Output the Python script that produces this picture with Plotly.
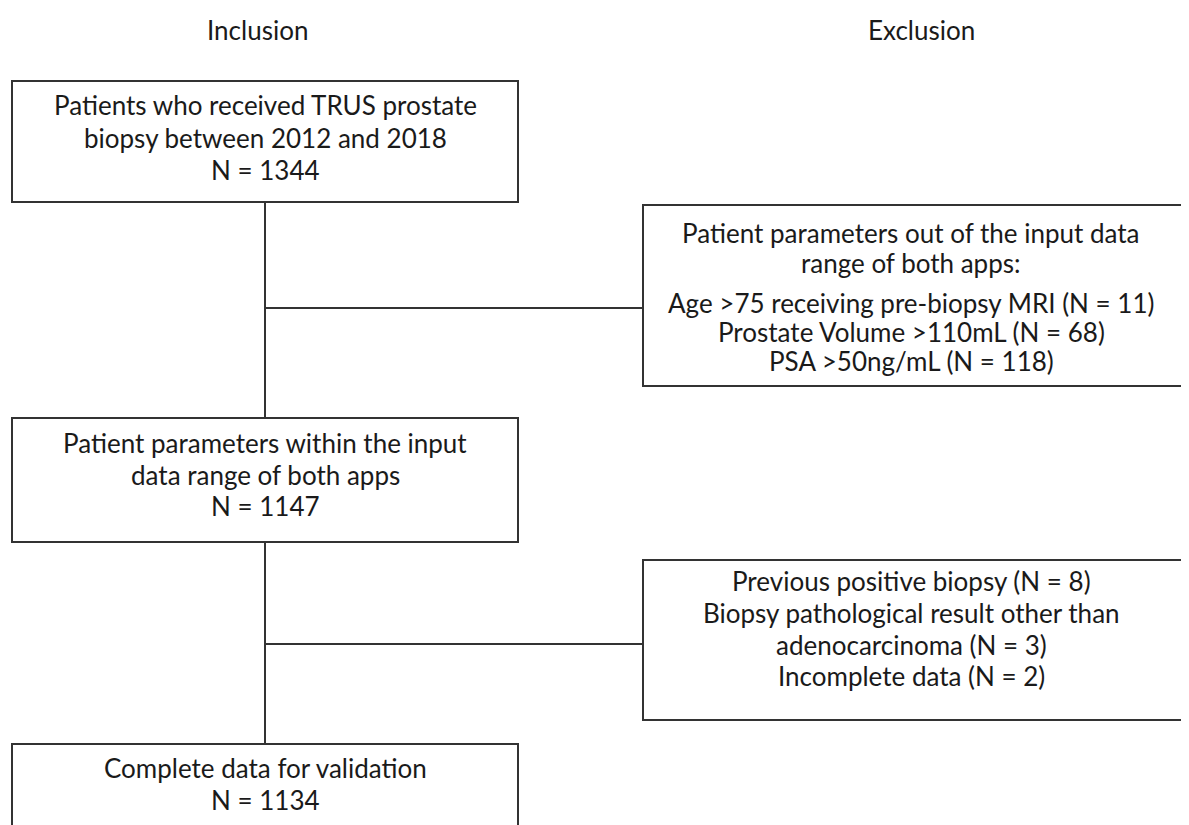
import plotly.graph_objects as go

# ---- content ----
headers = ["Inclusion", "Exclusion"]
header_x = [257, 921]

inclusion_boxes = [
    ["Patients who received TRUS prostate", "biopsy between 2012 and 2018", "N = 1344"],
    ["Patient parameters within the input", "data range of both apps", "N = 1147"],
    ["Complete data for validation", "N = 1134"],
]
exclusion_boxes = [
    ["Patient parameters out of the input data", "range of both apps:",
     "Age >75 receiving pre-biopsy MRI (N = 11)", "Prostate Volume >110mL (N = 68)",
     "PSA >50ng/mL (N = 118)"],
    ["Previous positive biopsy (N = 8)", "Biopsy pathological result other than",
     "adenocarcinoma (N = 3)", "Incomplete data (N = 2)"],
]

# ---- layout geometry (page pixels) ----
W, H = 1189, 825
OFF = 8  # page body margin compensation
inc_geom = [(12, 518, 81, 202), (12, 518, 418, 542), (12, 518, 744, 840)]
inc_line_y = [[105, 138, 170], [443, 475, 506], [768, 800]]
exc_geom = [(643, 1200, 205, 386), (643, 1200, 560, 720)]
exc_line_y = [[233, 263, 303, 332, 361], [581, 613, 645, 676]]
exc_text_x = 911
trunk_x = 265
branch_y = [308, 644]

FONT = "Lato, 'Open Sans', sans-serif"
LINE_COLOR = "#333333"
TEXT_COLOR = "#1a1a1a"
FS = 26

fig = go.Figure()
shapes = []
annotations = []

for (x0, x1, y0, y1) in inc_geom + exc_geom:
    shapes.append(dict(type="rect", xref="x", yref="y", x0=x0, x1=x1, y0=y0, y1=y1,
                       line=dict(color=LINE_COLOR, width=2), fillcolor="rgba(0,0,0,0)"))

for i in range(len(inc_geom) - 1):
    shapes.append(dict(type="line", xref="x", yref="y", x0=trunk_x, x1=trunk_x,
                       y0=inc_geom[i][3], y1=inc_geom[i + 1][2],
                       line=dict(color=LINE_COLOR, width=2)))
for by, g in zip(branch_y, exc_geom):
    shapes.append(dict(type="line", xref="x", yref="y", x0=trunk_x, x1=g[0],
                       y0=by, y1=by, line=dict(color=LINE_COLOR, width=2)))

for txt, x in zip(headers, header_x):
    annotations.append(dict(x=x, y=30, xref="x", yref="y", text=txt, showarrow=False,
                            font=dict(family=FONT, size=FS, color=TEXT_COLOR),
                            xanchor="center", yanchor="middle"))

for lines, ys, g in zip(inclusion_boxes, inc_line_y, inc_geom):
    cx = (g[0] + g[1]) / 2
    for t, y in zip(lines, ys):
        annotations.append(dict(x=cx, y=y, xref="x", yref="y", text=t, showarrow=False,
                                font=dict(family=FONT, size=FS, color=TEXT_COLOR),
                                xanchor="center", yanchor="middle"))

for lines, ys in zip(exclusion_boxes, exc_line_y):
    for t, y in zip(lines, ys):
        annotations.append(dict(x=exc_text_x, y=y, xref="x", yref="y", text=t, showarrow=False,
                                font=dict(family=FONT, size=FS, color=TEXT_COLOR),
                                xanchor="center", yanchor="middle"))

fig.update_layout(
    width=W, height=H,
    margin=dict(l=0, r=0, t=0, b=0),
    paper_bgcolor="white", plot_bgcolor="white",
    xaxis=dict(range=[OFF, W + OFF], visible=False, fixedrange=True),
    yaxis=dict(range=[H + OFF, OFF], visible=False, fixedrange=True),
    shapes=shapes, annotations=annotations,
    showlegend=False,
)

fig.write_html("out.html", config={"displayModeBar": False})
